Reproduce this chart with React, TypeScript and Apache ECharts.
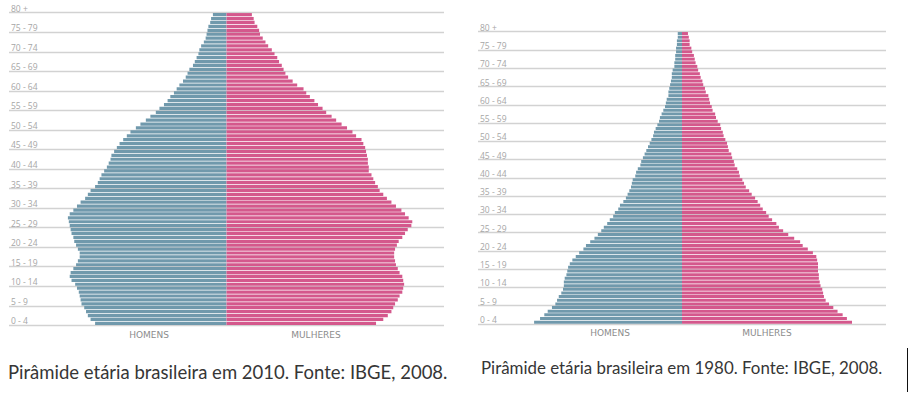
import React, { useEffect, useRef } from "react";
import * as echarts from "echarts";

// Single-year ages 0..79 (bottom to top)
const AGES = [
  0, 1, 2, 3, 4, 5, 6, 7, 8, 9, 10, 11, 12, 13, 14, 15, 16, 17, 18, 19,
  20, 21, 22, 23, 24, 25, 26, 27, 28, 29, 30, 31, 32, 33, 34, 35, 36, 37, 38, 39,
  40, 41, 42, 43, 44, 45, 46, 47, 48, 49, 50, 51, 52, 53, 54, 55, 56, 57, 58, 59,
  60, 61, 62, 63, 64, 65, 66, 67, 68, 69, 70, 71, 72, 73, 74, 75, 76, 77, 78, 79,
];

// Tick labels (one per 5-year group boundary)
const AGE_GROUPS = [
  "0 - 4", "5 - 9", "10 - 14", "15 - 19", "20 - 24", "25 - 29", "30 - 34", "35 - 39",
  "40 - 44", "45 - 49", "50 - 54", "55 - 59", "60 - 64", "65 - 69", "70 - 74", "75 - 79", "80 +",
];

const SIDES = ["HOMENS", "MULHERES"];

// Population per single year of age (thousands), 2010
const MEN_2010 = [
  1450, 1500, 1530, 1550, 1570, 1600, 1610, 1620, 1630, 1650,
  1670, 1710, 1730, 1720, 1690, 1660, 1640, 1620, 1620, 1640,
  1660, 1680, 1690, 1710, 1720, 1730, 1740, 1750, 1730, 1690,
  1650, 1610, 1560, 1530, 1500, 1450, 1420, 1400, 1380, 1350,
  1320, 1300, 1280, 1270, 1240, 1210, 1180, 1140, 1100, 1060,
  1000, 950, 890, 840, 780, 740, 690, 650, 620, 580,
  550, 520, 480, 450, 430, 410, 370, 350, 330, 310,
  300, 280, 250, 230, 220, 210, 200, 180, 170, 150,
];
const WOMEN_2010 = [
  1650, 1730, 1780, 1820, 1840, 1860, 1890, 1910, 1940, 1950,
  1960, 1950, 1940, 1910, 1890, 1870, 1860, 1850, 1850, 1860,
  1880, 1900, 1940, 1970, 2000, 2040, 2050, 2010, 1970, 1930,
  1870, 1820, 1770, 1730, 1690, 1670, 1640, 1620, 1600, 1570,
  1570, 1560, 1560, 1550, 1540, 1530, 1510, 1490, 1430, 1390,
  1330, 1270, 1210, 1160, 1100, 1060, 1010, 970, 920, 880,
  850, 780, 730, 680, 650, 630, 610, 580, 560, 530,
  500, 460, 430, 400, 370, 360, 340, 310, 300, 280,
];

// Population per single year of age (thousands), 1980
const MEN_1980 = [
  1740, 1670, 1620, 1580, 1530, 1490, 1470, 1450, 1420, 1400,
  1390, 1390, 1380, 1360, 1350, 1340, 1320, 1290, 1250, 1210,
  1160, 1130, 1080, 1030, 990, 950, 920, 880, 850, 810,
  790, 750, 730, 690, 660, 640, 620, 600, 590, 580,
  550, 540, 520, 490, 480, 460, 440, 420, 400, 380,
  360, 340, 330, 310, 290, 270, 260, 240, 220, 200,
  190, 180, 160, 160, 150, 140, 130, 120, 120, 110,
  90, 90, 80, 80, 70, 70, 60, 60, 50, 50,
];
const WOMEN_1980 = [
  2000, 1940, 1890, 1830, 1780, 1730, 1690, 1670, 1660, 1650,
  1630, 1620, 1610, 1610, 1600, 1600, 1600, 1590, 1580, 1540,
  1480, 1420, 1390, 1320, 1250, 1190, 1140, 1110, 1060, 1020,
  990, 950, 920, 890, 860, 820, 790, 750, 730, 710,
  680, 670, 650, 620, 610, 590, 580, 550, 540, 530,
  510, 490, 480, 460, 450, 420, 400, 390, 360, 350,
  330, 320, 310, 280, 270, 250, 240, 220, 210, 190,
  180, 160, 150, 140, 120, 110, 90, 90, 80, 70,
];

const CAPTION_2010 = "Pirâmide etária brasileira em 2010. Fonte: IBGE, 2008.";
const CAPTION_1980 = "Pirâmide etária brasileira em 1980. Fonte: IBGE, 2008.";

const X_MAX = 2400;
const MEN_COLOR = "#7099ac";
const WOMEN_COLOR = "#d4588c";
const GRID_COLOR = "#d2d2d2";

export default function App() {
  const ref = useRef<HTMLDivElement>(null);

  useEffect(() => {
    if (!ref.current) return;
    const chart = echarts.init(ref.current, undefined, { renderer: "svg" });

    const grids = [
      { left: 9, top: 12.7, width: 435, height: 312.6 },
      { left: 478, top: 31.7, width: 408, height: 292.3 },
    ];

    const xAxes = grids.map((_, i) => ({
      type: "value" as const,
      gridIndex: i,
      min: -X_MAX,
      max: X_MAX,
      show: false,
    }));

    const yAxes: any[] = [];
    grids.forEach((_, i) => {
      yAxes.push({
        type: "category",
        gridIndex: i,
        data: AGES,
        position: "left",
        show: false,
      });
      yAxes.push({
        type: "value",
        gridIndex: i,
        position: "left",
        min: 0,
        max: 80,
        interval: 5,
        axisLine: { show: false },
        axisTick: { show: false },
        splitLine: { show: true, lineStyle: { color: GRID_COLOR, width: 1.4 } },
        axisLabel: {
          inside: true,
          margin: 2,
          align: "left",
          verticalAlign: "bottom",
          showMinLabel: true,
          showMaxLabel: true,
          fontSize: 8.5,
          color: "#a6a6a6",
          fontFamily: "Open Sans",
          formatter: (v: number) => AGE_GROUPS[Math.round(v / 5)] ?? "",
        },
      });
    });

    const mkSeries = (gi: number, men: number[], women: number[]) => [
      {
        type: "bar",
        name: SIDES[0],
        xAxisIndex: gi,
        yAxisIndex: gi * 2,
        stack: "p" + gi,
        data: men.map((v) => -v),
        barCategoryGap: "18%",
        itemStyle: { color: MEN_COLOR },
        silent: true,
      },
      {
        type: "bar",
        name: SIDES[1],
        xAxisIndex: gi,
        yAxisIndex: gi * 2,
        stack: "p" + gi,
        data: women,
        barCategoryGap: "18%",
        itemStyle: { color: WOMEN_COLOR },
        silent: true,
      },
    ];

    const sideLabel = (text: string, x: number, y: number) => ({
      type: "text",
      x,
      y,
      style: {
        text,
        fontSize: 9,
        fontFamily: "DejaVu Sans",
        fill: "#8c8c8c",
        textAlign: "center",
        textVerticalAlign: "middle",
      },
      silent: true,
    });

    const option: any = {
      animation: false,
      backgroundColor: "#ffffff",
      grid: grids.map((g) => ({ ...g, containLabel: false })),
      xAxis: xAxes,
      yAxis: yAxes,
      series: [...mkSeries(0, MEN_2010, WOMEN_2010), ...mkSeries(1, MEN_1980, WOMEN_1980)],
      graphic: [
        sideLabel(SIDES[0], 149, 335),
        sideLabel(SIDES[1], 316, 335),
        sideLabel(SIDES[0], 610, 333),
        sideLabel(SIDES[1], 767, 333),
        {
          type: "text",
          x: 8,
          y: 372,
          style: {
            text: CAPTION_2010,
            fontSize: 18.5,
            fontFamily: "Lato",
            fill: "#363636",
            textAlign: "left",
            textVerticalAlign: "middle",
          },
          silent: true,
        },
        {
          type: "text",
          x: 481,
          y: 367,
          style: {
            text: CAPTION_1980,
            fontSize: 16.9,
            fontFamily: "Lato",
            fill: "#363636",
            textAlign: "left",
            textVerticalAlign: "middle",
          },
          silent: true,
        },
        {
          type: "line",
          shape: { x1: 907.5, y1: 348, x2: 907.5, y2: 392 },
          style: { stroke: "#111111", lineWidth: 1 },
          silent: true,
        },
      ],
    };

    chart.setOption(option);
    return () => chart.dispose();
  }, []);

  return (
    <div
      ref={ref}
      style={{ position: "absolute", left: 0, top: 0, width: 917, height: 400, background: "#ffffff" }}
    />
  );
}
